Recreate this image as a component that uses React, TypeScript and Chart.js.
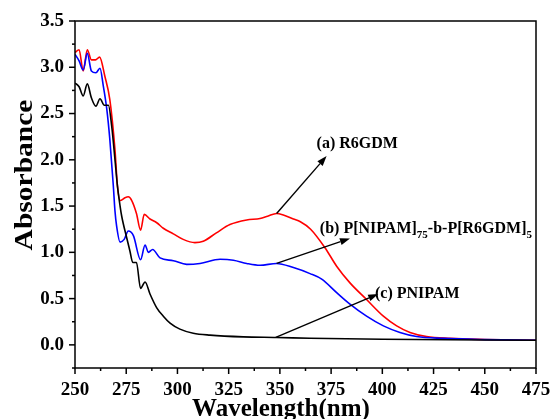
import React, { useEffect, useRef } from "react";
import { Chart, registerables } from "chart.js";
Chart.register(...registerables);

// (a) R6GDM
const redX = [250, 252, 254, 256, 258, 260, 262, 264.6, 267, 269.5, 270.7, 272, 274.4, 276, 277.7, 280, 282, 283.8, 286.6, 289.9, 293.1, 298, 302.8, 308.5, 312.6, 319, 325.6, 333.8, 340.3, 344, 348.4, 352, 356.6, 360, 365, 372, 377.7, 384.2, 392.3, 400.5, 407, 413.5, 421.6, 433, 450, 475];
const redY = [3.16, 3.19, 2.96, 3.19, 3.08, 3.08, 3.11, 2.9, 2.65, 2.11, 1.72, 1.56, 1.59, 1.6, 1.56, 1.42, 1.24, 1.41, 1.36, 1.32, 1.26, 1.2, 1.14, 1.105, 1.12, 1.21, 1.3, 1.35, 1.365, 1.39, 1.42, 1.4, 1.36, 1.33, 1.25, 1.05, 0.85, 0.67, 0.49, 0.31, 0.205, 0.134, 0.09, 0.07, 0.058, 0.05];

// (b) P[NIPAM]75-b-P[R6GDM]5
const blueX = [250, 252, 254, 256, 258, 260.2, 262.2, 263.8, 265.5, 267, 268.7, 269.5, 270.3, 272, 274, 276, 278.5, 282, 284.2, 285.8, 287.9, 291.5, 298, 304.5, 311, 320.8, 327.3, 333.8, 340.3, 348.4, 356.6, 364.7, 370.4, 377.7, 384.2, 392.3, 400.5, 408.6, 416.7, 429.7, 450, 475];
const blueY = [3.14, 3.07, 2.97, 3.15, 2.96, 2.94, 2.99, 2.8, 2.55, 2.22, 1.72, 1.45, 1.285, 1.11, 1.14, 1.23, 1.18, 0.92, 1.08, 1.0, 1.03, 0.94, 0.91, 0.87, 0.88, 0.925, 0.915, 0.88, 0.86, 0.88, 0.835, 0.77, 0.71, 0.565, 0.44, 0.31, 0.205, 0.134, 0.09, 0.07, 0.057, 0.05];

// (c) PNIPAM
const blackX = [250, 252, 254, 256, 258, 260.2, 262.2, 264.3, 266.3, 267.9, 269.5, 270.7, 272, 272.8, 275.2, 276.8, 278.2, 280, 282, 284.2, 286.6, 289.9, 293.1, 296.4, 301.2, 307.7, 315.9, 332.1, 348.4, 364.7, 400, 475];
const blackY = [2.83, 2.79, 2.69, 2.82, 2.67, 2.58, 2.66, 2.59, 2.59, 2.365, 2.005, 1.72, 1.5, 1.39, 1.16, 1.015, 0.89, 0.89, 0.61, 0.68, 0.55, 0.4, 0.31, 0.235, 0.17, 0.126, 0.105, 0.086, 0.08, 0.072, 0.06, 0.05];

const xTickValues = [250, 275, 300, 325, 350, 375, 400, 425, 450, 475];
const yTickValues = [0, 0.5, 1.0, 1.5, 2.0, 2.5, 3.0, 3.5];

const SERIF = '"Liberation Serif", "Times New Roman", serif';

const toPts = (xs: number[], ys: number[]) => xs.map((x, i) => ({ x, y: ys[i] }));

function drawArrow(ctx: CanvasRenderingContext2D, x1: number, y1: number, x2: number, y2: number) {
  const ang = Math.atan2(y2 - y1, x2 - x1);
  const hl = 10, hw = 3.5;
  const bx = x2 - hl * Math.cos(ang), by = y2 - hl * Math.sin(ang);
  ctx.beginPath();
  ctx.moveTo(x1, y1);
  ctx.lineTo(bx, by);
  ctx.stroke();
  ctx.beginPath();
  ctx.moveTo(x2, y2);
  ctx.lineTo(bx + hw * Math.sin(ang), by - hw * Math.cos(ang));
  ctx.lineTo(bx - hw * Math.sin(ang), by + hw * Math.cos(ang));
  ctx.closePath();
  ctx.fill();
}

const decorPlugin = {
  id: "decor",
  afterDraw(chart: any) {
    const { ctx, chartArea, scales } = chart;
    const { left, right, top, bottom } = chartArea;
    const xs = scales.x, ys = scales.y;
    ctx.save();
    ctx.strokeStyle = "#000";
    ctx.fillStyle = "#000";
    ctx.lineWidth = 1.5;
    ctx.strokeRect(left, top, right - left, bottom - top);
    // x ticks
    for (let i = 0; i <= 18; i++) {
      const v = 250 + i * 12.5;
      const px = xs.getPixelForValue(v);
      const len = i % 2 === 0 ? 6 : 3;
      ctx.beginPath();
      ctx.moveTo(px, bottom);
      ctx.lineTo(px, bottom + len);
      ctx.stroke();
    }
    // y ticks
    for (let i = -1; i <= 14; i++) {
      const v = i * 0.25;
      const py = ys.getPixelForValue(v);
      const len = i % 2 === 0 ? 6 : 3;
      ctx.beginPath();
      ctx.moveTo(left, py);
      ctx.lineTo(left - len, py);
      ctx.stroke();
    }
    // arrows
    ctx.lineWidth = 1.4;
    const P = (x: number, y: number) => [xs.getPixelForValue(x), ys.getPixelForValue(y)];
    const arrows = [
      [348.4, 1.42, 372.8, 2.04],
      [348.4, 0.88, 384.2, 1.15],
      [348.0, 0.08, 398.0, 0.55],
    ];
    for (const a of arrows) {
      const [x1, y1] = P(a[0], a[1]);
      const [x2, y2] = P(a[2], a[3]);
      drawArrow(ctx, x1, y1, x2, y2);
    }
    // labels
    ctx.textBaseline = "alphabetic";
    ctx.textAlign = "left";
    const f = (s: number) => `bold ${s}px ${SERIF}`;
    ctx.font = f(16);
    let [lx, ly] = P(367.9, 2.13);
    ctx.fillText("(a) R6GDM", lx, ly);
    [lx, ly] = P(369.5, 1.21);
    const parts: [string, boolean][] = [["(b) P[NIPAM]", false], ["75", true], ["-b-P[R6GDM]", false], ["5", true]];
    let cx = lx;
    for (const [t, sub] of parts) {
      ctx.font = f(sub ? 11 : 16);
      ctx.fillText(t, cx, ly + (sub ? 5 : 0));
      cx += ctx.measureText(t).width;
    }
    ctx.font = f(16);
    [lx, ly] = P(396.4, 0.51);
    ctx.fillText("(c) PNIPAM", lx, ly);
    // axis titles
    ctx.font = f(25);
    ctx.textAlign = "center";
    ctx.fillText("Wavelength(nm)", 281, 416);
    ctx.save();
    ctx.translate(32, 175);
    ctx.rotate(-Math.PI / 2);
    ctx.scale(1.18, 1);
    ctx.fillText("Absorbance", 0, 0);
    ctx.restore();
    ctx.restore();
  },
};

export default function App() {
  const ref = useRef<HTMLCanvasElement>(null);
  useEffect(() => {
    document.body.style.margin = "0";
    const chart = new Chart(ref.current!, {
      type: "line",
      data: {
        datasets: [
          { label: "PNIPAM", data: toPts(blackX, blackY), borderColor: "#000000" },
          { label: "P[NIPAM]75-b-P[R6GDM]5", data: toPts(blueX, blueY), borderColor: "#0000ff" },
          { label: "R6GDM", data: toPts(redX, redY), borderColor: "#ff0000" },
        ].map((d) => ({ ...d, borderWidth: 1.6, pointRadius: 0, fill: false, cubicInterpolationMode: "monotone" as const })),
      },
      options: {
        animation: false,
        responsive: false,
        devicePixelRatio: 1,
        layout: { padding: { left: 0, right: 15, top: 21, bottom: 0 } },
        plugins: { legend: { display: false }, tooltip: { enabled: false } },
        scales: {
          x: {
            type: "linear",
            min: 250,
            max: 475,
            grid: { display: false, drawTicks: false },
            border: { display: false },
            afterBuildTicks: (s: any) => { s.ticks = xTickValues.map((v) => ({ value: v })); },
            afterFit: (s: any) => { s.height = 51; s.paddingLeft = 0; s.paddingRight = 0; },
            ticks: { color: "#000", padding: 11, maxRotation: 0, font: { family: SERIF, weight: "bold", size: 19 }, callback: (v: any) => String(v) },
          },
          y: {
            type: "linear",
            min: -0.25,
            max: 3.5,
            grid: { display: false, drawTicks: false },
            border: { display: false },
            afterBuildTicks: (s: any) => { s.ticks = yTickValues.map((v) => ({ value: v })); },
            afterFit: (s: any) => { s.width = 75; s.paddingTop = 0; s.paddingBottom = 0; },
            ticks: { color: "#000", padding: 11, font: { family: SERIF, weight: "bold", size: 19 }, callback: (v: any) => Number(v).toFixed(1) },
          },
        },
      },
      plugins: [decorPlugin],
    });
    return () => chart.destroy();
  }, []);
  return (
    <div style={{ width: 551, height: 419 }}>
      <canvas ref={ref} width={551} height={419} />
    </div>
  );
}
